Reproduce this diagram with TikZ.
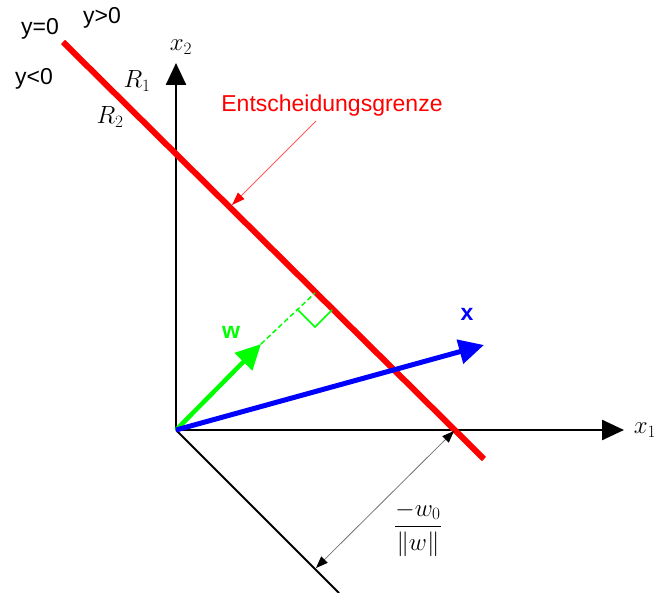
\documentclass[tikz,border=0pt]{standalone}
\usepackage{amsmath,amssymb}
\usepackage{fontspec}
\setmainfont{Liberation Sans}
\usetikzlibrary{arrows,arrows.meta,positioning}

\begin{document}
\begin{tikzpicture}[x=1pt,y=-1pt,
    axis/.style={line width=2.5pt,-{Triangle[length=22pt,width=20pt]}},
    vec/.style={line width=5pt,-{Triangle[length=25pt,width=24pt]}},
    dim/.style={black!55,line width=0.8pt,{Triangle[length=12pt,width=9pt,color=black]}-{Triangle[length=12pt,width=9pt,color=black]}},
    lbl/.style={font=\fontsize{23}{27}\selectfont},
    mlbl/.style={font=\fontsize{25}{30}\selectfont}]
    \useasboundingbox (0,0) rectangle (656,593);
    \coordinate (O) at (176,430);
    \coordinate (X1) at (624,430);
    \coordinate (X2) at (176,63);
    \coordinate (A) at (63,42);
    \coordinate (B) at (484,459);
    \coordinate (L) at (339,593);
    \coordinate (X) at (484,345);
    \coordinate (W) at (261,344);
    \coordinate (F) at (315,293);
    \coordinate (D1) at (316,568);
    \coordinate (D2) at (454,431);
    \coordinate (ptr) at (316,121);
    \coordinate (ptrtip) at (232,205);
    %%
    \draw[axis] (O)--(X1);
    \draw[axis] (O)--(X2);
    \draw[line width=2pt] (O)--(L);
    \draw[red,line width=6pt] (A)--(B);
    %%
    \draw[green,line width=1.5pt,dash pattern=on 5pt off 3pt] (W)--(F);
    \draw[green,line width=1.5pt] (298,310)--(315,327)--(332,310);
    \draw[vec,green,line width=4.5pt] (O)--(W);
    \draw[vec,blue] (O)--(X);
    \draw[dim] (D1)--(D2);
    %%
    \node[lbl,red] (grenze) at (332,106) {Entscheidungsgrenze};
    \draw[red!65,line width=0.8pt,-{Triangle[length=13pt,width=9pt,color=red]}] (ptr)--(ptrtip);
    \node[lbl] (y0) at (40,29) {y=0};
    \node[lbl] (ypos) at (102,18) {y>0};
    \node[lbl] (yneg) at (34,79) {y<0};
    \node[mlbl] (r1) at (137,81) {$R_1$};
    \node[mlbl] (r2) at (110,117) {$R_2$};
    \node[mlbl] (x2) at (181,47) {$x_2$};
    \node[mlbl] (x1) at (645,430) {$x_1$};
    \node[lbl,green,font=\fontsize{23}{27}\selectfont\bfseries] (w) at (231,332) {w};
    \node[lbl,blue,font=\fontsize{23}{27}\selectfont\bfseries] (x) at (467,314) {x};
    \node[font=\fontsize{25}{30}\selectfont] (dist) at (418,529) {$\displaystyle\frac{-w_0}{\|w\|}$};
\end{tikzpicture}
\end{document}
